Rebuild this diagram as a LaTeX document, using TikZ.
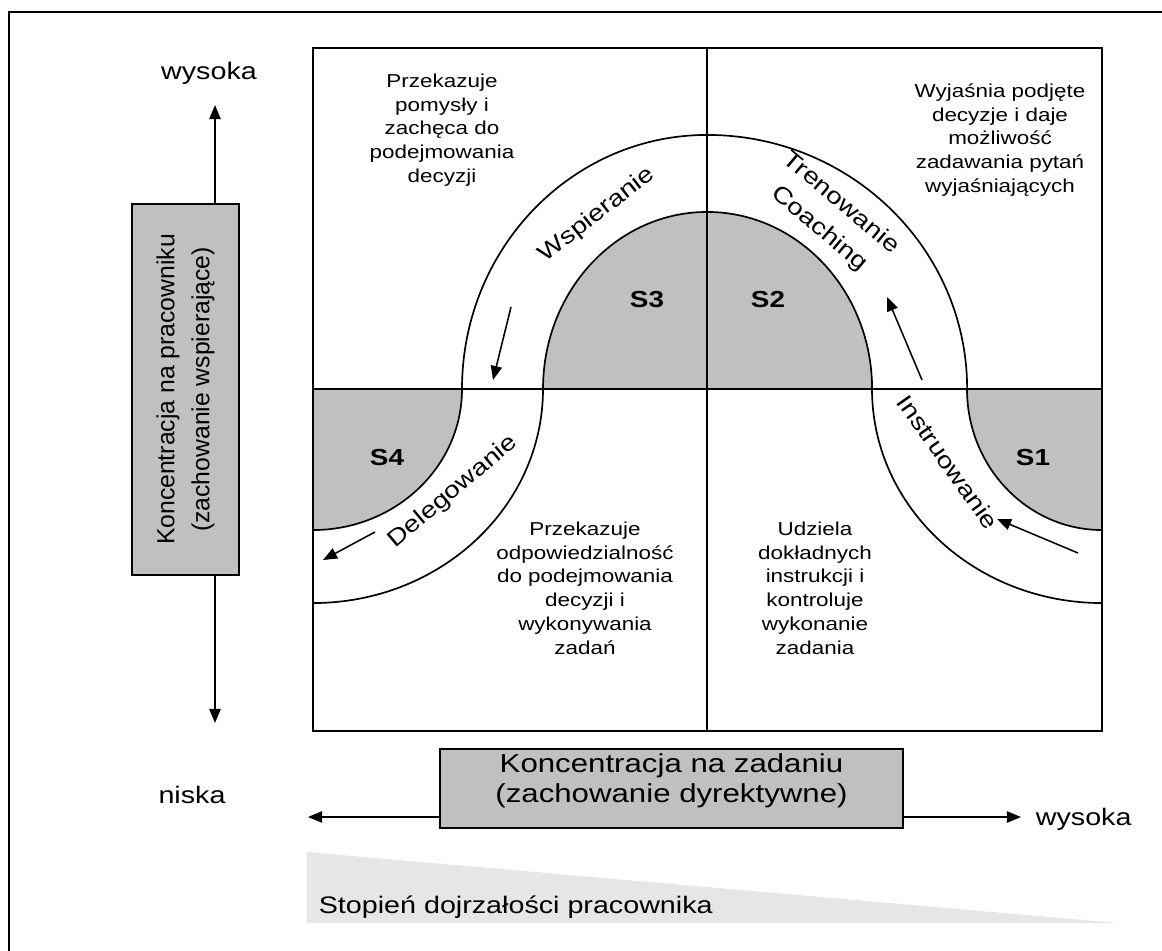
\documentclass[tikz,border=0pt]{standalone}
\usepackage{fontspec}
\setmainfont{Liberation Sans}[FakeStretch=1.2]
\newfontfamily\plainsans{Liberation Sans}
\usepackage{tikz}
\usetikzlibrary{arrows.meta,positioning}
\definecolor{boxgray}{RGB}{192,192,192}
\definecolor{wedgegray}{RGB}{230,230,230}
\tikzstyle{quadtext}=[align=center, inner sep=0pt, font=\fontsize{13.3pt}{16.9pt}\selectfont]
\tikzstyle{bandtext}=[align=center, inner sep=0pt, font=\fontsize{16.5pt}{24pt}\selectfont]
\tikzstyle{slabel}=[inner sep=0pt, font=\fontsize{16.5pt}{19pt}\selectfont\bfseries]
\tikzstyle{axisbox}=[rectangle, draw, fill=boxgray, align=center, inner sep=0pt]
\tikzstyle{axislabel}=[inner sep=0pt, font=\fontsize{17pt}{20pt}\selectfont]
\tikzstyle{bandarrow}=[->, line width=1.1pt]

\begin{document}
\begin{tikzpicture}[x=0.025cm, y=0.025cm, line width=1.2pt, >={Triangle[length=10pt,width=8pt]}]
\useasboundingbox (0,0) rectangle (1162,-951);
\draw (9,-951) |- (1162,-12);

% maturity wedge
\fill[wedgegray] (307,-852) -- (307,-923) -- (1118,-923) -- cycle;
\node[axislabel, anchor=base west] (maturity) at (318,-913) {Stopień dojrzałości pracownika};

% shaded styles
\filldraw[fill=boxgray] (543,-389) arc[start angle=180, end angle=90, x radius=4.1cm, y radius=4.425cm]
  arc[start angle=90, end angle=0, x radius=4.125cm, y radius=4.425cm] -- cycle;
\filldraw[fill=boxgray] (313,-389) -- (462,-389) arc[start angle=0, end angle=-90, x radius=3.725cm, y radius=3.525cm] -- cycle;
\filldraw[fill=boxgray] (967,-389) arc[start angle=180, end angle=270, x radius=3.375cm, y radius=3.525cm] -- (1102,-389) -- cycle;

% band
\draw (462,-389) arc[start angle=180, end angle=90, x radius=6.125cm, y radius=6.35cm]
  arc[start angle=90, end angle=0, x radius=6.5cm, y radius=6.35cm];
\draw (543,-389) arc[start angle=0, end angle=-90, x radius=5.75cm, y radius=5.35cm];
\draw (872,-389) arc[start angle=180, end angle=270, x radius=5.75cm, y radius=5.35cm];

% grid
\draw (313,-48) rectangle (1102,-731);
\draw (707,-48) -- (707,-731);
\draw (313,-389) -- (1102,-389);

\node[quadtext] (q3) at (442,-130) {Przekazuje\\pomysły i\\zachęca do\\podejmowania\\decyzji};
\node[quadtext] (q2) at (1000,-140) {Wyjaśnia podjęte\\decyzje i daje\\możliwość\\zadawania pytań\\wyjaśniających};
\node[quadtext] (q4) at (585,-588) {Przekazuje\\odpowiedzialność\\do podejmowania\\decyzji i\\wykonywania\\zadań};
\node[quadtext] (q1) at (815,-588) {Udziela\\dokładnych\\instrukcji i\\kontroluje\\wykonanie\\zadania};

\node[slabel] (s3) at (647,-300) {S3};
\node[slabel] (s2) at (768,-300) {S2};
\node[slabel] (s4) at (387,-458) {S4};
\node[slabel] (s1) at (1033,-458) {S1};

\node[bandtext, rotate=38] (wsp) at (597,-215) {Wspieranie};
\node[bandtext, rotate=-40] (tren) at (830,-216) {Trenowanie\\Coaching};
\node[bandtext, rotate=-55] (instr) at (948,-462) {Instruowanie};
\node[bandtext, rotate=40] (deleg) at (453,-492) {Delegowanie};

\coordinate (w1) at (511,-307); \coordinate (w2) at (493,-380);
\coordinate (c1) at (922,-380); \coordinate (c2) at (887,-297);
\coordinate (i1) at (1078,-553); \coordinate (i2) at (997,-519);
\coordinate (d1) at (375,-532); \coordinate (d2) at (323,-560);
\draw[bandarrow] (w1) -- (w2);
\draw[bandarrow] (c1) -- (c2);
\draw[bandarrow] (i1) -- (i2);
\draw[bandarrow] (d1) -- (d2);

% axes
\node[axisbox, rotate=90, minimum width=9.275cm, minimum height=2.675cm,
  font=\plainsans\fontsize{17.6pt}{24.9pt}\selectfont] (vbox) at (185.5,-389.5) {Koncentracja na pracowniku\\(zachowanie wspierające)};
\node[axisbox, minimum width=11.575cm, minimum height=1.975cm] (hbox) at (671.5,-788.5) {};
\node[align=center, inner sep=0pt, font=\fontsize{18.5pt}{21pt}\selectfont] (hboxtext) at (671.5,-781) {Koncentracja na zadaniu\\(zachowanie dyrektywne)};
\coordinate (ytop) at (215,-105);
\coordinate (ybot) at (215,-723);
\coordinate (xleft) at (308,-817);
\coordinate (xright) at (1021,-817);
\draw[->] (ytop |- vbox.east) -- (ytop);
\draw[->] (ybot |- vbox.west) -- (ybot);
\draw[->] (hbox.west |- xleft) -- (xleft);
\draw[->] (hbox.east |- xright) -- (xright);

\node[axislabel, anchor=base] (yhigh) at (209,-80) {wysoka};
\node[axislabel, anchor=base] (xlow) at (192,-803) {niska};
\node[axislabel, anchor=base west] (xhigh) at (1035,-825) {wysoka};

\end{tikzpicture}
\end{document}
